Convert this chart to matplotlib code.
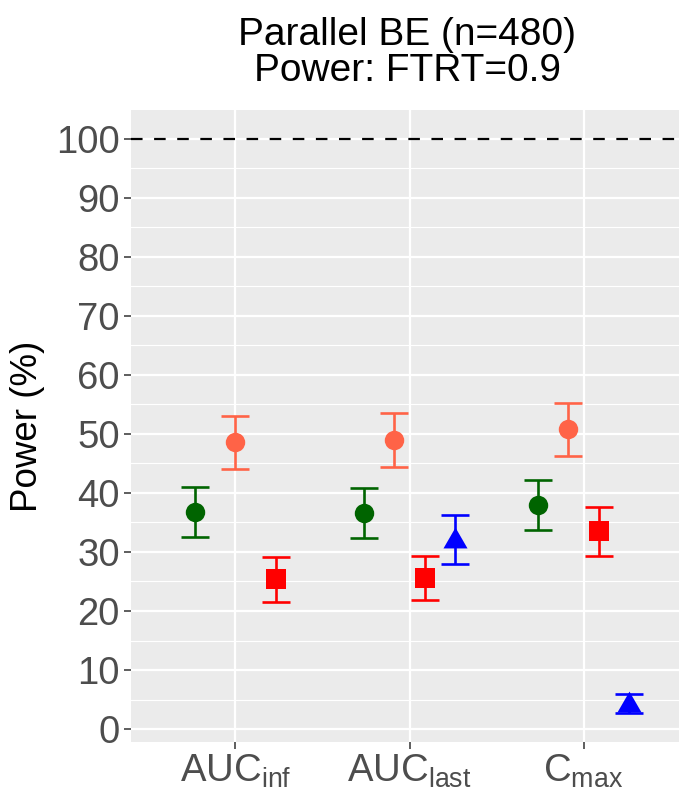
import numpy as np
import matplotlib
matplotlib.use("Agg")
import matplotlib.pyplot as plt
from matplotlib.ticker import MultipleLocator

plt.rcParams["font.family"] = ["Liberation Sans", "DejaVu Sans"]
plt.rcParams["mathtext.fontset"] = "custom"
plt.rcParams["mathtext.rm"] = "Liberation Sans"
plt.rcParams["mathtext.it"] = "Liberation Sans:italic"

# Endpoints on the x axis
categories = [r"AUC$_{\mathrm{inf}}$", r"AUC$_{\mathrm{last}}$", r"C$_{\mathrm{max}}$"]

# Power estimates (%) with lower / upper confidence limits per series
green_mean = [36.7, 36.6, 37.9]
green_lo = [32.6, 32.4, 33.8]
green_hi = [41.0, 40.8, 42.2]

coral_mean = [48.6, 48.9, 50.8]
coral_lo = [44.0, 44.4, 46.2]
coral_hi = [53.1, 53.5, 55.3]

red_mean = [25.4, 25.6, 33.6]
red_lo = [21.6, 21.8, 29.4]
red_hi = [29.2, 29.4, 37.7]

blue_mean = [np.nan, 31.9, 4.0]
blue_lo = [np.nan, 28.0, 2.7]
blue_hi = [np.nan, 36.2, 6.0]

title = "Parallel BE (n=480)\nPower: FTRT=0.9"
ylabel = "Power (%)"
reference_line = 100

# equilateral triangle centred on its centroid
tri = [(0, 1), (-0.866, -0.5), (0.866, -0.5)]
series = [
    (green_mean, green_lo, green_hi, "#006400", "o", 14),
    (coral_mean, coral_lo, coral_hi, "#FF6347", "o", 14),
    (red_mean, red_lo, red_hi, "#FF0000", "s", 13.7),
    (blue_mean, blue_lo, blue_hi, "#0000FF", tri, 20),
]

W, H = 679, 793
fig = plt.figure(figsize=(W / 100, H / 100), dpi=100)
left, right, top, bottom = 131, 688, 110, 742
ax = fig.add_axes([left / W, 1 - bottom / H, (right - left) / W, (bottom - top) / H])
ax.set_facecolor("#EBEBEB")

dodge = 0.7
n_cat = len(categories)
for ci in range(n_cat):
    present = [s for s in series if not np.isnan(s[0][ci])]
    k = len(present)
    for j, (m, lo, hi, col, mk, ms) in enumerate(present):
        x = ci + (-dodge / 2 + dodge / k * (j + 0.5))
        ax.errorbar(
            [x], [m[ci]],
            yerr=[[m[ci] - lo[ci]], [hi[ci] - m[ci]]],
            fmt="none", ecolor=col, elinewidth=1.9, capsize=10.4, capthick=1.9,
            zorder=3,
        )
        ax.plot([x], [m[ci]], marker=mk, markersize=ms, color=col,
                markeredgewidth=0, linestyle="none", zorder=4)

ax.axhline(reference_line, color="black", linewidth=1.6,
           linestyle=(0, (5.2, 5.2)), zorder=2)

ax.set_xlim(-0.6, n_cat - 1 + 0.6)
ax.set_ylim(-2.2, 104.9)
ax.set_xticks(range(n_cat))
ax.set_xticklabels(categories)
ax.yaxis.set_major_locator(MultipleLocator(10))
ax.yaxis.set_minor_locator(MultipleLocator(5))

ax.grid(which="major", color="white", linewidth=1.6, zorder=1)
ax.grid(which="minor", axis="y", color="white", linewidth=0.8, zorder=1)
ax.set_axisbelow(True)
for sp in ax.spines.values():
    sp.set_visible(False)

ax.tick_params(axis="both", which="major", length=5, width=1.1, color="#333333",
               labelsize=27.5, labelcolor="#4D4D4D", pad=3)
ax.tick_params(axis="both", which="minor", length=0)

ax.set_ylabel(ylabel, fontsize=26.5, color="black", labelpad=8)
fig.text(407 / W, 1 - 53 / H, title, ha="center", va="center",
         fontsize=28, linespacing=1.02)

fig.savefig("out.png", dpi=100)
